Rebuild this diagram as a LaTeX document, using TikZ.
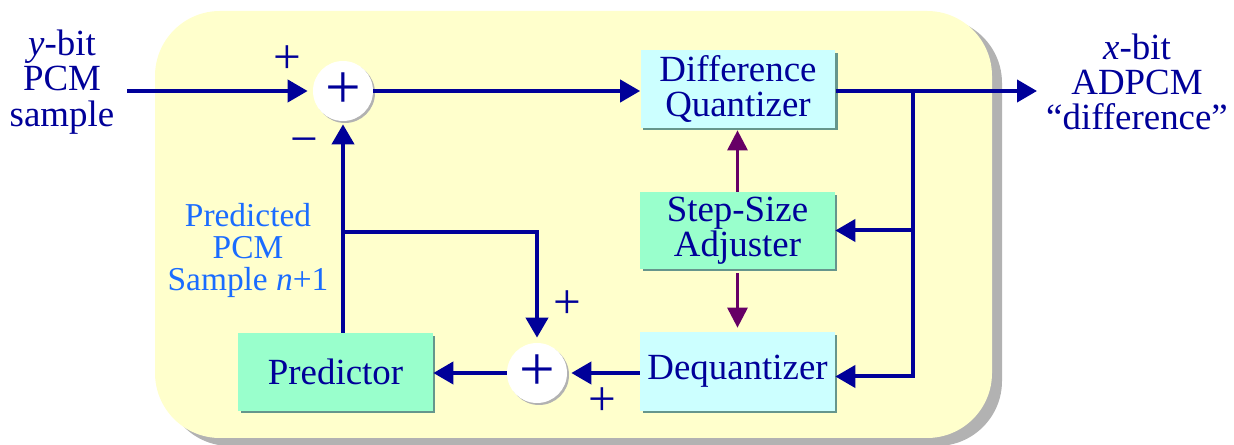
\documentclass[tikz,border=0pt]{standalone}
\usepackage{fontspec}
\setmainfont{Liberation Serif}[Ligatures=TeX]
\usetikzlibrary{arrows.meta,shadows}
\definecolor{navy}{RGB}{0,0,153}
\definecolor{plum}{RGB}{102,0,102}
\definecolor{panel}{RGB}{255,255,204}
\definecolor{panelshade}{RGB}{178,178,178}
\definecolor{cyanbox}{RGB}{204,255,255}
\definecolor{mintbox}{RGB}{153,255,204}
\definecolor{boxshade}{RGB}{102,150,140}
\definecolor{skyblue}{RGB}{26,108,255}
\begin{document}
\begin{tikzpicture}[x=0.02cm,y=-0.02cm,
  txt/.style={font=\fontsize{21}{20}\selectfont, text=navy, align=center},
  note/.style={font=\fontsize{19}{18.2}\selectfont, text=skyblue, align=center},
  block/.style={txt, inner sep=0pt, minimum width=3.9cm,
    drop shadow={shadow xshift=0.05cm, shadow yshift=-0.05cm, opacity=1, fill=boxshade}},
  summer/.style={circle, fill=white, minimum size=1.2cm, inner sep=0pt,
    font=\fontsize{36}{36}\selectfont, text=navy,
    drop shadow={shadow xshift=0.04cm, shadow yshift=-0.04cm, opacity=1, fill=panelshade}},
  sign/.style={font=\fontsize{28}{28}\selectfont, text=navy},
  flow/.style={draw=navy, line width=0.08cm, -{Triangle[length=0.4cm,width=0.44cm]}},
  ctrl/.style={draw=plum, line width=0.06cm, -{Triangle[length=0.4cm,width=0.4cm]}}
]
\useasboundingbox (0,0) rectangle (1234,445);

% panel with its shadow
\fill[panelshade, rounded corners=1.3cm] (165,18) rectangle (1002,446);
\fill[panel, rounded corners=1.3cm] (155,11) rectangle (992,438);

% blocks
\node[summer] (S1) at (343,91) {+};
\node[summer] (S2) at (537,373) {+};
\node[block, fill=cyanbox, minimum height=1.56cm] (DQ) at (738,89) {Difference\\Quantizer};
\node[block, fill=mintbox, minimum height=1.54cm] (SSA) at (737.5,230.5) {Step-Size\\Adjuster};
\node[block, fill=cyanbox, minimum height=1.58cm] (DeQ) at (737.5,371.5) {Dequantizer};
\node[block, fill=mintbox, minimum height=1.56cm] (Pred) at (335.5,372) {Predictor};

% outer labels
\node[txt] (inlbl) at (62,82) {\textit{y}-bit\\PCM\\sample};
\node[txt] (outlbl) at (1137,82) {\textit{x}-bit\\ADPCM\\“difference”};
\node[note] (predlbl) at (248,250) {Predicted\\PCM\\Sample \textit{n}+1};

% signs at the summing junctions
\node[sign] (p1) at (287,60) {+};
\node[sign] (m1) at (304,147) {−};
\node[sign] (p2) at (567,305) {+};
\node[sign] (p3) at (602,402) {+};

% connection points
\coordinate (in) at (127,91);
\coordinate (out) at (1037,91);
\coordinate (br) at (913,91);
\coordinate (tap) at (343,232);

% signal paths
\draw[flow, shorten >=0.1cm] (in) -- (S1.west);
\draw[flow] (S1.east) -- (S1.east -| DQ.west);
\draw[flow] (DQ.east |- S1) -- (out);
\draw[flow] (br) |- ([yshift=-0.1cm]DeQ.east);
\draw[flow] (SSA.east -| br) -- (SSA.east);
\draw[flow, shorten >=0.08cm] (DeQ.west |- S2) -- (S2.east);
\draw[flow] (S2.west) -- (S2.west -| Pred.east);
\draw[flow, shorten >=0.06cm] (S1 |- Pred.north) -- (S1.south);
\draw[flow, shorten >=0.1cm] (tap) -| (S2.north);

% step-size control
\draw[ctrl, shorten >=0.04cm] (SSA.north) -- (DQ.south -| SSA.north);
\draw[ctrl, shorten <=0.08cm, shorten >=0.08cm] (SSA.south) -- (DeQ.north);
\end{tikzpicture}
\end{document}
